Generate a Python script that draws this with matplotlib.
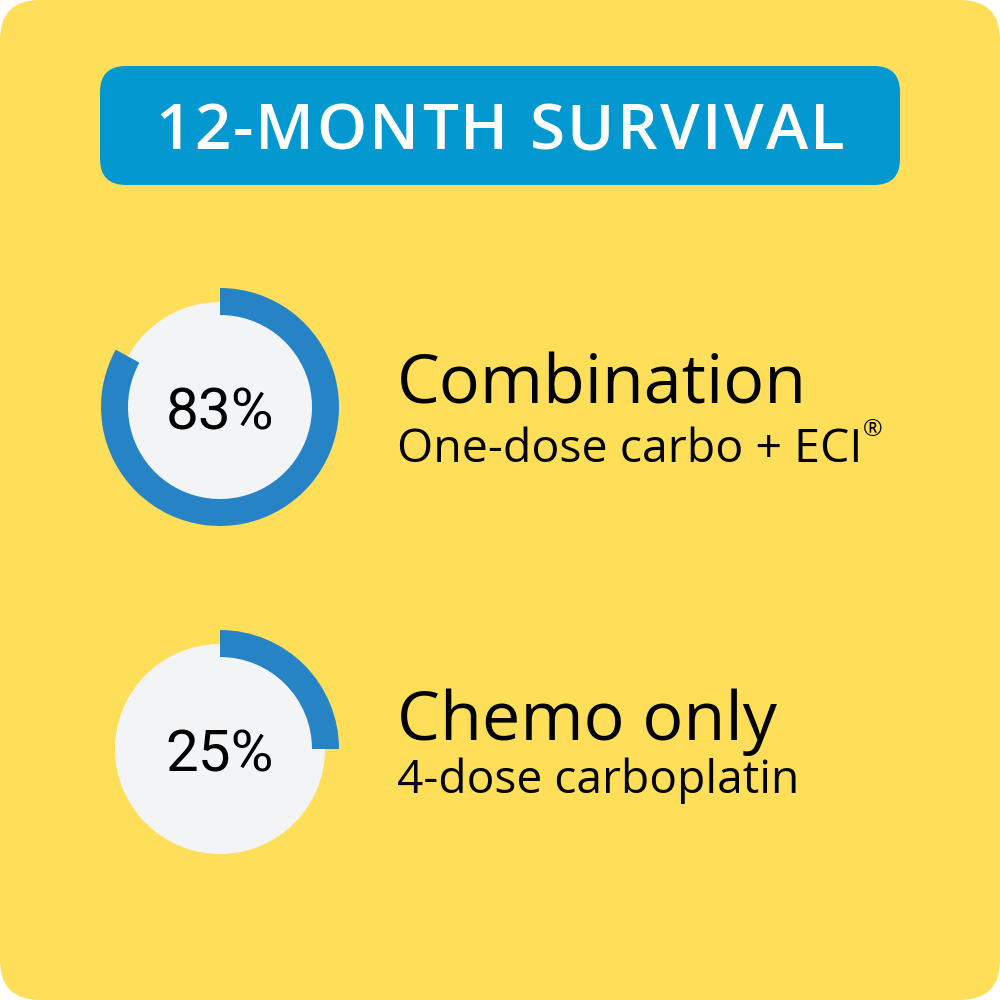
import matplotlib
matplotlib.use("Agg")
import matplotlib.pyplot as plt
from matplotlib.patches import FancyBboxPatch, Circle

# ---- data ----
title = "12-MONTH SURVIVAL"
groups = ["Combination", "Chemo only"]
subtitles = ["One-dose carbo + ECI", "4-dose carboplatin"]
survival_pct = [83, 25]

# ---- style ----
YELLOW = "#FFDE59"
TITLE_BLUE = "#0399D0"
RING_BLUE = "#2684C6"
GRAY = "#F3F4F6"

fig = plt.figure(figsize=(10, 10), dpi=100)
fig.patch.set_facecolor("white")
ax = fig.add_axes([0, 0, 1, 1])
ax.set_xlim(0, 1000)
ax.set_ylim(1000, 0)
ax.axis("off")

ax.add_patch(FancyBboxPatch((0, 0), 1000, 1000, boxstyle="round,pad=0,rounding_size=40",
                            fc=YELLOW, ec="none"))
ax.add_patch(FancyBboxPatch((100, 66), 800, 119, boxstyle="round,pad=0,rounding_size=26",
                            fc=TITLE_BLUE, ec="none"))

fig.canvas.draw()
renderer = fig.canvas.get_renderer()


def width_px(t):
    return t.get_window_extent(renderer).width


def fit(x, y, s, target, size0, **kw):
    t = ax.text(x, y, s, fontsize=size0, **kw)
    w = width_px(t)
    t.set_fontsize(size0 * target / w)
    return t


# title with letter spacing
tkw = dict(family="Open Sans", weight="semibold", color="white", va="baseline")
tsize = 46
widths = []
for ch in title:
    tt = ax.text(0, 0, ch if ch != " " else "\u00a0", fontsize=tsize, **tkw)
    widths.append(width_px(tt))
    tt.remove()
total = sum(widths)
target = 690
gap = (target - total) / (len(title) - 1)
x = 500 - target / 2
for ch, w in zip(title, widths):
    if ch != " ":
        ax.text(x, 149, ch, fontsize=tsize, **tkw)
    x += w + gap

# labels
lkw = dict(family="Open Sans", color="black", va="baseline", ha="left")
fit(397, 403, groups[0], 410, 50, **lkw)
sub = fit(397, 462, subtitles[0], 464, 37, **lkw)
bb = sub.get_window_extent(renderer)
ax.text(bb.x1 + 1, 436, "\u00ae", fontsize=17, family="Open Sans",
        color="black", va="baseline", ha="left")
fit(397, 740, groups[1], 380, 50, **lkw)
fit(397, 793, subtitles[1], 402, 34, **lkw)

# donuts
centers = [(220, 407), (220, 749)]
R = 120.0
for (cx, cy), pct in zip(centers, survival_pct):
    dax = fig.add_axes([(cx - R) / 1000, 1 - (cy + R) / 1000, 2 * R / 1000, 2 * R / 1000])
    dax.add_patch(Circle((0, 0), 105 / R, fc=GRAY, ec="none"))
    dax.pie([pct, 100 - pct], colors=[RING_BLUE, (0, 0, 0, 0)], radius=119 / R,
            startangle=90, counterclock=False,
            wedgeprops=dict(width=27 / R, linewidth=0))
    dax.set_xlim(-1, 1)
    dax.set_ylim(-1, 1)
    dax.set_aspect("equal")
    dax.axis("off")
    dax.text(0, -22 / R, f"{pct}%", fontsize=42, family="Roboto", weight="normal",
             color="black", ha="center", va="baseline", zorder=5)

fig.savefig("out.png", dpi=100, facecolor="white")
